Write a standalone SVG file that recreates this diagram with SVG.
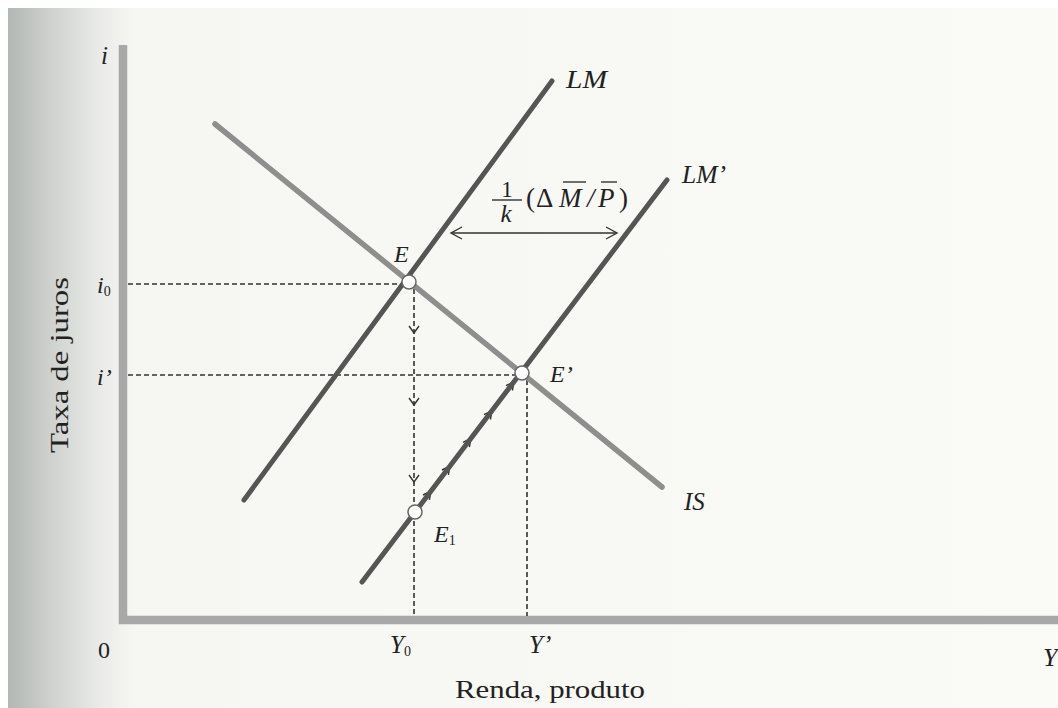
<svg xmlns="http://www.w3.org/2000/svg" width="1058" height="708" viewBox="0 0 1058 708">
<defs>
<linearGradient id="page" x1="0" y1="0" x2="1" y2="0" gradientUnits="objectBoundingBox">
<stop offset="0" stop-color="#b3b7b3"/>
<stop offset="0.04" stop-color="#ced1cd"/>
<stop offset="0.085" stop-color="#e9eae7"/>
<stop offset="0.12" stop-color="#f6f6f3"/>
<stop offset="1" stop-color="#fafaf7"/>
</linearGradient>
<style>
.axis{stroke:#a8a8a8;stroke-width:8.5;fill:none}
.lm{stroke:#555;stroke-width:5;fill:none;stroke-linecap:round}
.is{stroke:#8e8e8e;stroke-width:5.5;fill:none;stroke-linecap:round}
.dash{stroke:#333;stroke-width:1.6;stroke-dasharray:5 3;fill:none}
.thin{stroke:#333;stroke-width:1.4;fill:none}
.pt{fill:#fff;stroke:#666;stroke-width:1.5}
.m{font-family:"Liberation Serif",serif;font-style:italic;fill:#222}
.r{font-family:"Liberation Serif",serif;fill:#222}
</style>
</defs>
<rect width="1058" height="708" fill="#ffffff"/>
<rect x="8" y="8" width="1050" height="700" fill="url(#page)"/>

<g id="axes">
<line class="axis" x1="123" y1="45" x2="123" y2="624"/>
<line class="axis" x1="119" y1="620" x2="1058" y2="620"/>
<text class="m" x="101" y="64" font-size="25">i</text>
<text class="m" x="97" y="293" font-size="24">i<tspan font-size="14" font-style="normal" dy="3">0</tspan></text>
<text class="m" x="97" y="385" font-size="24">i’</text>
<text class="r" x="98" y="658" font-size="24">0</text>
<text class="m" x="1043" y="666" font-size="26">Y</text>
<text class="m" x="390" y="653" font-size="25">Y<tspan font-size="14" font-style="normal" dy="3">0</tspan></text>
<text class="m" x="529" y="653" font-size="25">Y’</text>
<text class="r" x="455" y="698" font-size="26" textLength="190" lengthAdjust="spacingAndGlyphs">Renda,  produto</text>
<text class="r" font-size="26" textLength="176" lengthAdjust="spacingAndGlyphs" transform="translate(68,453) rotate(-90)">Taxa  de  juros</text>
</g>

<g id="connectors">
<line class="dash" x1="128" y1="284" x2="402" y2="284"/>
<line class="dash" x1="128" y1="375" x2="515" y2="375"/>
<line class="dash" x1="414" y1="289" x2="414" y2="616"/>
<line class="dash" x1="527" y1="380" x2="527" y2="616"/>
<path class="thin" d="M409,326 L414,333 L419,326 M409,398 L414,405 L419,398 M409,475 L414,482 L419,475"/>
<line class="thin" x1="452" y1="233" x2="616" y2="233"/>
<path class="thin" d="M462,227 L451,233 L462,239 M606,227 L617,233 L606,239"/>
<path class="thin" d="M429.4,499.8 L431,491 L423,495 M448.4,474.8 L450,466 L442,470 M469.4,447.1 L471,438.3 L463,442.3 M490.4,419.5 L492,410.7 L484,414.7 M512.4,390.5 L514,381.7 L506,385.7"/>
</g>

<g id="IS">
<line class="is" x1="215" y1="124" x2="662" y2="487"/>
<text class="m" x="684" y="510" font-size="25">IS</text>
</g>
<g id="LM">
<line class="lm" x1="244" y1="500" x2="552" y2="81"/>
<text class="m" x="566" y="88" font-size="25" textLength="41" lengthAdjust="spacingAndGlyphs">LM</text>
</g>
<g id="LM2">
<line class="lm" x1="362" y1="582" x2="667" y2="180"/>
<text class="m" x="682" y="183" font-size="25" textLength="44" lengthAdjust="spacingAndGlyphs">LM’</text>
</g>

<g id="shift-label">
<text class="r" x="507" y="197" font-size="23" text-anchor="middle">1</text>
<line class="thin" x1="492" y1="200" x2="522" y2="200"/>
<text class="m" x="506" y="222" font-size="25" text-anchor="middle">k</text>
<text class="r" font-size="27" y="207"><tspan x="526">(</tspan><tspan x="536">Δ</tspan><tspan x="559" font-style="italic">M</tspan><tspan x="587" font-style="italic">/</tspan><tspan x="598" font-style="italic">P</tspan><tspan x="619">)</tspan></text>
<line class="thin" x1="563" y1="182" x2="586" y2="182"/>
<line class="thin" x1="601" y1="182" x2="617" y2="182"/>
</g>

<g id="E">
<circle class="pt" cx="409" cy="282" r="7"/>
<text class="m" x="394" y="262" font-size="24">E</text>
</g>
<g id="Eprime">
<circle class="pt" cx="522" cy="373" r="7"/>
<text class="m" x="550" y="382" font-size="24">E’</text>
</g>
<g id="E1">
<circle class="pt" cx="415" cy="512" r="7"/>
<text class="m" x="434" y="542" font-size="24">E<tspan font-size="14" font-style="normal" dy="3">1</tspan></text>
</g>
</svg>
